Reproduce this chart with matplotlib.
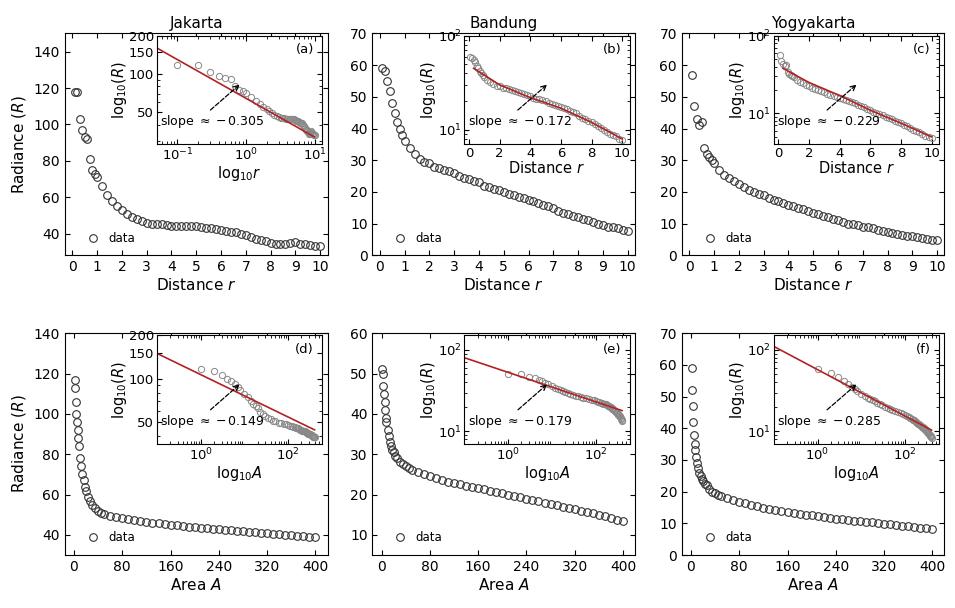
import numpy as np
import matplotlib.pyplot as plt
from matplotlib.ticker import ScalarFormatter, NullFormatter

# distance grid (top row) and area grid (bottom row)
r = [0.1, 0.2, 0.3, 0.4, 0.5, 0.6, 0.7, 0.8, 0.9, 1.0] + [round(1.2 + 0.2 * i, 1) for i in range(45)]
A = [1, 2, 3, 4, 5, 6, 7, 8, 10, 12, 14, 16, 18, 20, 23, 26, 30, 35, 40, 45, 50] + list(range(60, 410, 10))

R_jak_r = [118, 118, 103, 97, 93, 92, 81, 75, 73, 71,
           66, 61, 58, 55, 53, 51, 49, 48, 47, 46,
           45.5, 45, 45, 44.5, 44, 44, 44, 44, 44, 44,
           43.5, 43, 43, 42.5, 42, 41.5, 41, 41, 40, 39,
           38, 37, 36.5, 36, 35, 34.5, 34, 34, 35, 35.5,
           34.5, 34, 33.5, 33, 33]
R_ban_r = [59, 58, 55, 52, 48, 45, 42, 40, 38, 36,
           34, 32, 30.5, 29.5, 29, 28, 27.5, 27, 26.5, 26,
           25, 24.5, 24, 23.5, 23, 22, 21.5, 21, 20.5, 20,
           19.5, 19, 18.5, 18, 17.5, 17, 16.5, 16, 15.5, 15,
           14, 13.5, 13, 12.5, 12, 11.5, 11, 10.5, 10, 9.5,
           9, 8.8, 8.5, 8, 7.8]
R_yog_r = [57, 47, 43, 41, 42, 34, 32, 31, 30, 29,
           27, 25.5, 24.5, 23.5, 22.5, 21.5, 20.5, 20, 19.5, 19,
           18, 17.5, 17, 16.5, 16, 15.5, 15, 14.5, 14, 13.5,
           13, 12.5, 12, 11.5, 11, 10.5, 10, 9.8, 9.5, 9,
           8.8, 8.5, 8, 7.8, 7.5, 7, 6.8, 6.5, 6.2, 6,
           5.8, 5.5, 5.2, 5, 4.8]

R_jak_A = [117, 113, 106, 100, 96, 92, 88, 84, 78, 74, 70, 67, 64, 62, 59, 57, 55, 53.5, 52, 51, 50.5,
           49.5, 49, 48.5, 48, 47.5, 47, 46.5, 46, 46, 45.5,
           45, 45, 44.5, 44, 44, 43.5, 43.5, 43, 43, 42.5,
           42.5, 42, 42, 41.5, 41.5, 41, 41, 40.5, 40.5, 40,
           40, 39.5, 39.5, 39, 39]
R_ban_A = [51, 50, 47, 45, 43, 41, 39, 38, 36, 34.5, 33, 32, 31, 30.5, 29.5, 29, 28, 27.5, 27, 26.5, 26,
           25.5, 25, 24.5, 24, 23.5, 23, 22.8, 22.5, 22.2, 22,
           21.7, 21.4, 21, 20.7, 20.4, 20, 19.7, 19.4, 19, 18.7,
           18.4, 18, 17.7, 17.4, 17, 16.7, 16.4, 16, 15.7, 15.4,
           15, 14.6, 14.2, 13.8, 13.5]
R_yog_A = [59, 52, 47, 42, 38, 35, 33, 31, 29, 27.5, 26, 25, 24, 23.5, 22.5, 22, 21, 20, 19.5, 19, 18.5,
           18, 17.3, 16.8, 16.3, 15.8, 15.4, 15, 14.6, 14.3, 14,
           13.7, 13.4, 13.1, 12.8, 12.5, 12.2, 12, 11.8, 11.5, 11.3,
           11.1, 10.9, 10.7, 10.5, 10.3, 10.1, 9.9, 9.7, 9.5, 9.3,
           9.1, 8.9, 8.7, 8.5, 8.3]

# fitted lines shown in the insets
fit_a = ([0.05, 10], [160, 32])
fit_b = ([0.3, 2, 4, 6, 8, 10], [45, 30, 22, 17, 12, 8])
fit_c = ([0.3, 2, 4, 6, 8, 10], [38, 25, 17, 11, 7.5, 5])
fit_d = ([0.1, 400], [150, 44])
fit_e = ([0.1, 400], [80, 18])
fit_f = ([0.1, 400], [110, 10.4])

titles = ["Jakarta", "Bandung", "Yogyakarta"]
slopes = ["0.305", "0.172", "0.229", "0.149", "0.179", "0.285"]
labels = ["(a)", "(b)", "(c)", "(d)", "(e)", "(f)"]

plt.rcParams['font.family'] = ['DejaVu Sans']
plt.rcParams['xtick.direction'] = 'in'
plt.rcParams['ytick.direction'] = 'in'
plt.rcParams['xtick.top'] = True
plt.rcParams['ytick.right'] = True

fig = plt.figure(figsize=(9.55, 6.08), dpi=100)
lefts = [0.068, 0.39, 0.714]
widths = [0.275, 0.275, 0.275]

top_data = [R_jak_r, R_ban_r, R_yog_r]
bot_data = [R_jak_A, R_ban_A, R_yog_A]
top_ylim = [(28, 150), (0, 70), (0, 70)]
top_yt = [range(40, 141, 20), range(0, 71, 10), range(0, 71, 10)]
bot_ylim = [(30, 140), (5, 60), (0, 70)]
bot_yt = [range(40, 141, 20), range(10, 61, 10), range(0, 71, 10)]
fits = [fit_a, fit_b, fit_c, fit_d, fit_e, fit_f]
ins_ylim = [(28, 200), (7, 100), (4, 100), (35, 200), (7, 150), (7, 150)]

mk = dict(marker='o', ls='none', mfc='none', mec='#333333', ms=5.5, mew=0.8)
mk_in = dict(marker='o', ls='none', mfc='none', mec='#888888', ms=4.5, mew=0.7)

for row in range(2):
    for col in range(3):
        k = row * 3 + col
        bottom = 0.58 if row == 0 else 0.087
        ax = fig.add_axes([lefts[col], bottom, widths[col], 0.365])
        if row == 0:
            x, y = r, top_data[col]
            ax.plot(x, y, label='data', **mk)
            ax.set_xlim(-0.3, 10.3)
            ax.set_xticks(range(0, 11))
            ax.set_ylim(*top_ylim[col])
            ax.set_yticks(list(top_yt[col]))
            ax.set_xlabel('Distance $r$', fontsize=11, labelpad=2)
            ax.set_title(titles[col], fontsize=11, pad=4)
        else:
            x, y = A, bot_data[col]
            ax.plot(x, y, label='data', **mk)
            ax.set_xlim(-15, 420)
            ax.set_xticks(range(0, 401, 80))
            ax.set_ylim(*bot_ylim[col])
            ax.set_yticks(list(bot_yt[col]))
            ax.set_xlabel('Area $A$', fontsize=11, labelpad=2)
        if col == 0:
            ax.set_ylabel('Radiance ($R$)', fontsize=11)
        ax.tick_params(labelsize=10)
        ax.legend(loc='lower left', frameon=False, fontsize=8.5, handletextpad=0.3,
                  bbox_to_anchor=(0.02, 0.0))

        ins = ax.inset_axes([0.35, 0.5, 0.63, 0.49])
        ins.plot(x, y, **mk_in)
        ins.plot(fits[k][0], fits[k][1], color='#b22222', lw=1.2)
        ins.set_yscale('log')
        ins.set_ylim(*ins_ylim[k])
        if k == 0 or k == 3:
            ins.set_yticks([50, 100, 150, 200])
            ins.yaxis.set_major_formatter(ScalarFormatter())
            ins.yaxis.set_minor_formatter(NullFormatter())
        if row == 0 and col > 0:
            ins.set_xlim(-0.3, 10.5)
            ins.set_xticks(range(0, 11, 2))
            ins.set_xlabel('Distance $r$', fontsize=10.5, labelpad=0)
        else:
            ins.set_xscale('log')
            if row == 0:
                ins.set_xlim(0.05, 13)
                ins.set_xlabel('log$_{10}r$', fontsize=10.5, labelpad=0)
            else:
                ins.set_xlim(0.1, 600)
                ins.set_xticks([1, 100])
                ins.set_xlabel('log$_{10}A$', fontsize=10.5, labelpad=0)
        ins.set_ylabel('log$_{10}(R)$', fontsize=10.5, labelpad=0)
        ins.tick_params(labelsize=9.5, pad=2)
        ins.text(0.95, 0.93, labels[k], transform=ins.transAxes, ha='right', va='top', fontsize=9.5)
        ins.annotate('slope $\\approx -$' + slopes[k], xy=(0.5, 0.55),
                     xytext=(0.02, 0.18), textcoords='axes fraction', xycoords='axes fraction',
                     fontsize=9, arrowprops=dict(arrowstyle='->', ls='--', color='k', lw=0.9,
                                                 shrinkA=0, shrinkB=0, relpos=(0.45, 1.0)))

fig.savefig('out.png', dpi=100)
